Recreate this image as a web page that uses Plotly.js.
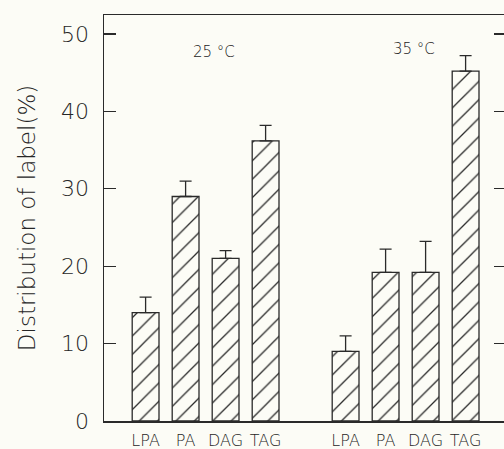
<!DOCTYPE html>
<html>
<head>
<meta charset="utf-8">
<script src="https://cdn.plot.ly/plotly-3.0.1.min.js"></script>
<style>
html,body{margin:0;padding:0;overflow:hidden;background:#fcfcf6;}
#chart{width:510px;height:449px;}
</style>
</head>
<body>
<div id="chart"></div>
<script>
const categories = ["LPA", "PA", "DAG", "TAG"];
const groups = ["25 °C", "35 °C"];
const values25 = [14, 29, 21, 36.2];
const errors25 = [2, 2, 1, 2];
const values35 = [9, 19.2, 19.2, 45.2];
const errors35 = [2, 3, 4, 2];

const slot = categories.length + 1;
function xs(g) { return categories.map((c, i) => g * slot + i); }

const ink = '#2a2a2a';
const txt = '#262626';
const fam = 'DejaVu Sans, sans-serif';
function barTrace(g, vals, errs) {
  return {
    type: 'bar',
    x: xs(g),
    y: vals,
    width: 0.67,
    marker: {
      color: '#fcfcf6',
      line: {color: ink, width: 1.3},
      pattern: {shape: '/', fgcolor: ink, bgcolor: '#fcfcf6', size: 13, solidity: 0.1}
    },
    error_y: {
      type: 'data', symmetric: false, array: errs, arrayminus: errs.map(() => 0),
      color: ink, thickness: 1.3, width: 6
    },
    name: groups[g],
    showlegend: false,
    hoverinfo: 'skip'
  };
}

const data = [barTrace(0, values25, errors25), barTrace(1, values35, errors35)];

const tickvals = xs(0).concat(xs(1));
const ticktext = categories.concat(categories);

const layout = {
  width: 510, height: 449,
  margin: {l: 104, r: 4, t: 15, b: 28},
  paper_bgcolor: '#fcfcf6',
  plot_bgcolor: '#fcfcf6',
  font: {family: fam, color: txt, weight: 200},
  xaxis: {
    range: [-1.04, 9.01],
    tickvals: tickvals, ticktext: ticktext,
    ticks: '', showgrid: false, zeroline: false,
    showline: true, linecolor: ink, linewidth: 1.5, mirror: true,
    ticklabelstandoff: 4,
    tickfont: {family: fam, size: 16, color: txt, weight: 200}
  },
  yaxis: {
    range: [0, 52.45],
    tickvals: [0, 10, 20, 30, 40, 50],
    ticks: 'inside', ticklen: 12, tickwidth: 1.3, tickcolor: ink,
    showgrid: false, zeroline: false,
    showline: true, linecolor: ink, linewidth: 1.5, mirror: 'ticks',
    ticklabelstandoff: 9,
    tickfont: {family: fam, size: 22, color: txt, weight: 200},
    title: {text: 'Distribution of label(%)', font: {family: fam, size: 23, color: txt, weight: 200}, standoff: 19}
  },
  annotations: [
    {x: 1.71, y: 47.7, text: groups[0], showarrow: false, font: {family: fam, size: 15, color: '#1a1a1a', weight: 200}},
    {x: 6.71, y: 48.1, text: groups[1], showarrow: false, font: {family: fam, size: 15, color: '#1a1a1a', weight: 200}}
  ]
};

Plotly.newPlot('chart', data, layout, {displayModeBar: false, staticPlot: true});
</script>
</body>
</html>
